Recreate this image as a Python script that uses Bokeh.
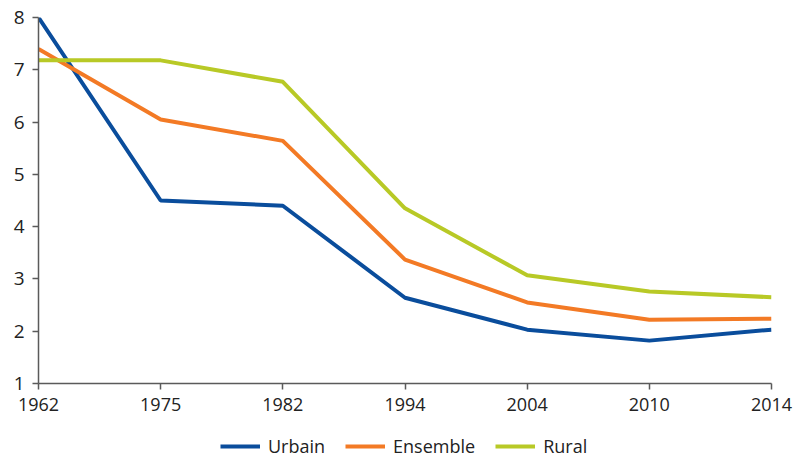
from bokeh.plotting import figure
from bokeh.layouts import column
from bokeh.models import FixedTicker, Legend, LegendItem, Range1d
from bokeh.embed import file_html
from bokeh.resources import INLINE

years = ["1962", "1975", "1982", "1994", "2004", "2010", "2014"]
urbain = [8.0, 4.5, 4.4, 2.64, 2.03, 1.82, 2.03]
ensemble = [7.4, 6.05, 5.64, 3.37, 2.55, 2.22, 2.24]
rural = [7.18, 7.18, 6.77, 4.35, 3.07, 2.76, 2.65]
y_ticks = [1, 2, 3, 4, 5, 6, 7, 8]
series_names = ["Urbain", "Ensemble", "Rural"]
colors = ["#0a4d9c", "#f37a25", "#b8c926"]

xs = list(range(len(years)))
FONT = "Open Sans"
AXIS_COLOR = "#5a5a5a"

p = figure(frame_width=733, frame_height=366, output_backend="svg", toolbar_location=None,
           x_range=Range1d(0, len(years) - 1), y_range=Range1d(1, 8),
           min_border_left=38, min_border_right=25, min_border_top=17, min_border_bottom=39)
p.outline_line_color = None
p.grid.grid_line_color = None
p.background_fill_color = "white"

for vals, c in zip([urbain, ensemble, rural], colors):
    p.line(xs, vals, line_color=c, line_width=4)

p.xaxis.ticker = FixedTicker(ticks=xs)
p.xaxis.major_label_overrides = {i: y for i, y in enumerate(years)}
p.yaxis.ticker = FixedTicker(ticks=y_ticks)
for ax in (p.xaxis, p.yaxis):
    ax.axis_line_color = AXIS_COLOR
    ax.axis_line_width = 1.5
    ax.major_tick_line_color = AXIS_COLOR
    ax.major_tick_line_width = 1.5
    ax.major_tick_out = 6
    ax.major_tick_in = 0
    ax.minor_tick_line_color = None
    ax.major_label_text_font = FONT
    ax.major_label_text_color = "#222222"
p.xaxis.major_label_text_font_size = "18px"
p.yaxis.major_label_text_font_size = "19px"
p.xaxis.major_label_standoff = 8
p.yaxis.major_label_standoff = 8

# legend strip below the chart (swatch renderers sit outside the visible range)
lf = figure(frame_width=796, frame_height=36, output_backend="svg", toolbar_location=None,
            x_range=Range1d(0, 1), y_range=Range1d(0, 1),
            min_border_left=0, min_border_right=0, min_border_top=0, min_border_bottom=0)
lf.axis.visible = False
lf.grid.grid_line_color = None
lf.outline_line_color = None
items = []
for name, c in zip(series_names, colors):
    r = lf.line([-10, -9], [-10, -9], line_color=c, line_width=4)
    items.append(LegendItem(label=name, renderers=[r]))
legend = Legend(items=items, orientation="horizontal", location=(220, 0),
                border_line_color=None, background_fill_alpha=0,
                label_text_font=FONT, label_text_font_size="18px",
                label_text_color="#222222",
                glyph_width=40, glyph_height=20, label_height=20,
                spacing=20, label_standoff=8, margin=0, padding=0)
lf.add_layout(legend, "center")

layout = column(p, lf, spacing=0)
open("out.html", "w").write(file_html(layout, INLINE))
